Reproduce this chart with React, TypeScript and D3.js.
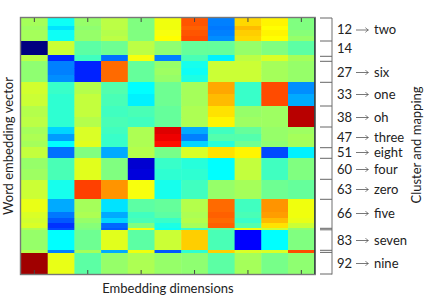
import React from "react";
import * as d3 from "d3";

const W = 425, H = 298;
const totalRows = 256;
// [row span, value per embedding dimension (0..1 on the jet scale)]
const rowSpans = [8, 4, 6, 5, 14, 6, 7, 7, 7, 12, 12, 11, 10, 7, 7, 6, 11, 11, 11, 19, 13, 6, 5, 5, 2, 20, 3, 21];
const rowValues = [
  [.55,.37,.53,.58,.5,.65,.84,.27,.71,.68,.5],
  [.54,.34,.52,.58,.5,.65,.83,.26,.74,.67,.5],
  [.55,.37,.53,.57,.5,.66,.84,.27,.72,.68,.51],
  [.55,.37,.53,.58,.5,.67,.85,.28,.71,.67,.53],
  [.0,.6,.46,.48,.58,.52,.47,.47,.53,.5,.46],
  [.58,.16,.43,.25,.66,.27,.44,.35,.58,.62,.55],
  [.52,.27,.15,.82,.47,.53,.38,.6,.6,.55,.53],
  [.52,.27,.15,.82,.47,.54,.37,.6,.6,.55,.53],
  [.52,.28,.15,.82,.47,.53,.39,.6,.6,.55,.53],
  [.61,.42,.57,.45,.36,.48,.55,.76,.42,.85,.28],
  [.6,.41,.59,.44,.35,.48,.55,.74,.42,.85,.3],
  [.57,.41,.59,.43,.44,.47,.56,.7,.53,.54,.965],
  [.58,.41,.57,.44,.43,.47,.56,.68,.54,.54,.965],
  [.55,.33,.62,.43,.56,.94,.3,.43,.47,.53,.54],
  [.56,.29,.62,.42,.56,.93,.27,.45,.45,.53,.55],
  [.55,.36,.63,.42,.56,.91,.33,.4,.48,.52,.55],
  [.59,.25,.5,.3,.57,.49,.62,.7,.68,.2,.35],
  [.53,.44,.63,.5,.07,.42,.4,.36,.59,.43,.5],
  [.54,.44,.63,.5,.08,.41,.41,.36,.59,.43,.5],
  [.6,.38,.86,.78,.66,.38,.43,.53,.55,.48,.47],
  [.64,.3,.55,.34,.46,.47,.57,.82,.43,.78,.65],
  [.62,.26,.56,.3,.43,.46,.56,.83,.44,.77,.65],
  [.61,.22,.53,.33,.44,.42,.57,.82,.42,.74,.64],
  [.62,.17,.51,.24,.5,.39,.55,.83,.45,.7,.6],
  [.56,.2,.5,.22,.66,.37,.42,.47,.65,.6,.52],
  [.53,.36,.48,.63,.46,.6,.72,.44,.11,.36,.5],
  [.57,.27,.55,.3,.65,.22,.41,.72,.62,.62,.85],
  [.98,.64,.46,.53,.56,.53,.52,.46,.55,.49,.52],
];
const clusterTicks = [0, 23, 38.3, 43.3, 64.3, 88, 109, 129.7, 140.3, 161.3, 181.3, 210.3, 211.8, 232.3, 234.4, 256];
const clusterLabels = ["12", "14", "27", "33", "38", "47", "51", "60", "63", "66", "83", "92"];
const clusterWords = ["two", "", "six", "one", "oh", "three", "eight", "four", "zero", "five", "seven", "nine"];
const labelRows = [11.5, 30, 54, 76, 99, 119, 134, 151, 171, 195, 222, 245];
const dimensionTicks = [0, 2, 4, 6, 8, 10];
const jetStops = ["#000080", "#0000ff", "#0080ff", "#00ffff", "#80ff80", "#ffff00", "#ff8000", "#ff0000", "#800000"];
const jetAnchors = [0, .11, .27, .36, .5, .67, .8, .92, 1];

const FONT = "Lato, sans-serif";
const TEXT = "#222";

export default function App() {
  const x = d3.scaleLinear().domain([0, 11]).range([21, 314.7]);
  const y = d3.scaleLinear().domain([0, totalRows]).range([18, 274]);
  const colour = d3.scaleLinear<string>().domain(jetAnchors).range(jetStops).interpolate(d3.interpolateRgb);
  const starts = Array.from(d3.cumsum([0, ...rowSpans]));
  return (
    <svg width={W} height={H} viewBox={`0 0 ${W} ${H}`}
      style={{ position: "absolute", left: 0, top: 0, background: "#fff" }} fontFamily={FONT}>
      <defs>
        <filter id="soft" x="0" y="0" width="1" height="1"><feGaussianBlur stdDeviation="0.35" /></filter>
      </defs>
      <g filter="url(#soft)">
        {rowValues.map((row, r) => row.map((v, c) => (
          <rect key={`${r}-${c}`} x={x(c)} y={y(starts[r])} width={x(c + 1) - x(c) + 0.5}
            height={y(starts[r + 1]) - y(starts[r]) + 0.5} fill={colour(v)} />
        )))}
      </g>
      {dimensionTicks.map(t => (
        <g key={t} stroke="#444" strokeWidth={1}>
          <line x1={x(t + .5)} x2={x(t + .5)} y1={18} y2={22} />
          <line x1={x(t + .5)} x2={x(t + .5)} y1={274} y2={270} />
        </g>
      ))}
      <rect x={x(0) - .5} y={y(0) - .5} width={x(11) - x(0) + 1} height={y(256) - y(0) + 1}
        fill="none" stroke="#777" strokeWidth={1.4} />
      <line x1={x(11)} x2={x(11)} y1={18} y2={274} stroke="#344" strokeWidth={1.2} />
      <line x1={332} x2={332} y1={18} y2={274.5} stroke="#999" strokeWidth={1.4} />
      {clusterTicks.map(t => (
        <line key={t} x1={320} x2={332} y1={y(t)} y2={y(t)} stroke="#666" strokeWidth={1} />
      ))}
      {clusterLabels.map((lab, i) => (
        <g key={lab} fontSize={13} fill={TEXT}>
          <text x={337} y={y(labelRows[i])} dy="0.35em">{lab}</text>
          {clusterWords[i] && <>
            <text x={374} y={y(labelRows[i])} dy="0.35em">{clusterWords[i]}</text>
            <line x1={356} x2={368} y1={y(labelRows[i]) + .5} y2={y(labelRows[i]) + .5} stroke="#555" strokeWidth={.8} />
            <path d={`M365.5 ${y(labelRows[i]) - 2} Q366.5 ${y(labelRows[i]) - .2} 368.5 ${y(labelRows[i]) + .5} Q366.5 ${y(labelRows[i]) + 1.2} 365.5 ${y(labelRows[i]) + 3}`} fill="none" stroke="#555" strokeWidth={.7} />
          </>}
        </g>
      ))}
      <text x={168} y={293} textAnchor="middle" fontSize={13} fill={TEXT}>Embedding dimensions</text>
      <text transform="translate(13,146) rotate(-90)" textAnchor="middle" fontSize={13} fill={TEXT}>Word embedding vector</text>
      <text transform="translate(421,145) rotate(-90)" textAnchor="middle" fontSize={13} fill={TEXT}>Cluster and mapping</text>
    </svg>
  );
}
